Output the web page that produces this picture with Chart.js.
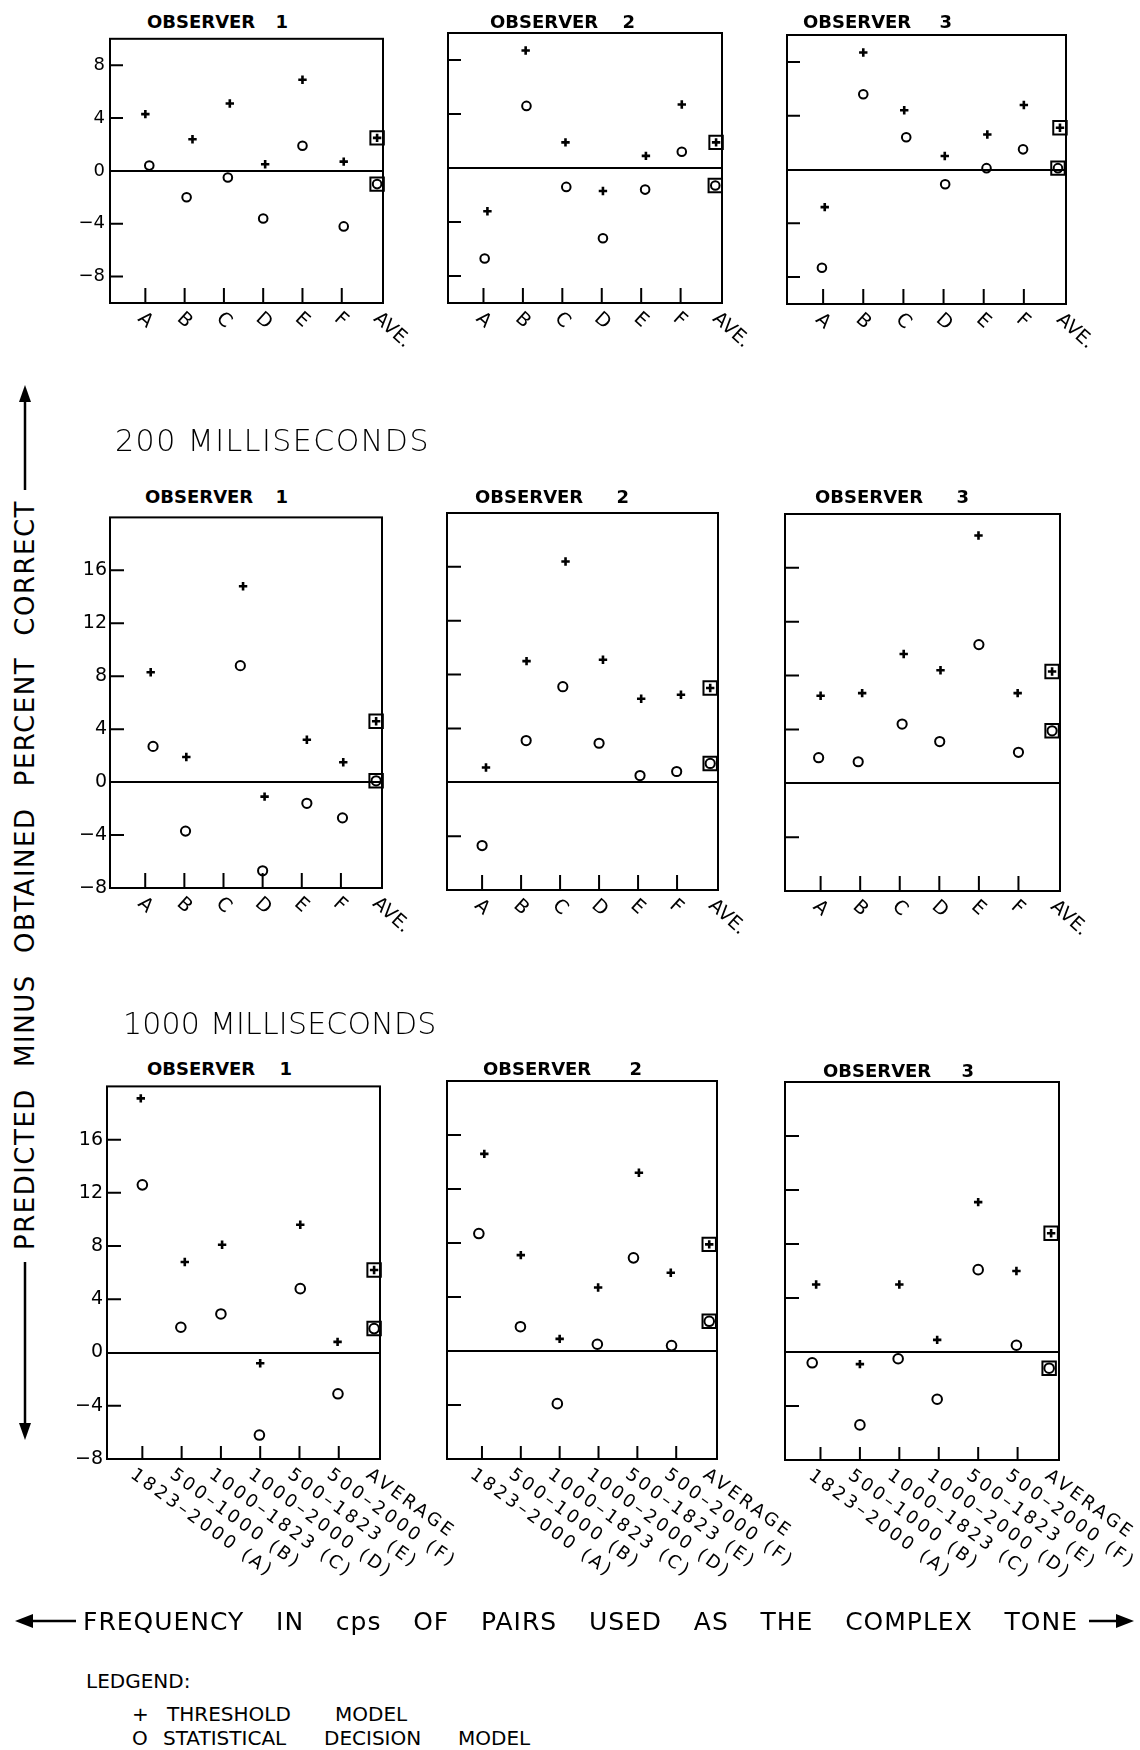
<!DOCTYPE html>
<html>
<head>
<meta charset="utf-8">
<script src="https://cdn.jsdelivr.net/npm/chart.js@4.4.1/dist/chart.umd.min.js"></script>
<style>
html,body{margin:0;padding:0;background:#fff;}
body{width:1140px;height:1750px;position:relative;overflow:hidden;font-family:"DejaVu Sans",sans-serif;color:#000;}
.abs{position:absolute;white-space:nowrap;}
canvas{position:absolute;}
.obs{font-size:18px;line-height:18px;font-weight:bold;}
.head{font-size:30px;line-height:30px;font-weight:300;letter-spacing:1.5px;}
.bottom{font-size:25px;line-height:25px;letter-spacing:1px;display:flex;justify-content:space-between;}
.leg{font-size:20px;line-height:20px;}
#vlabel{font-size:26px;line-height:30px;height:30px;letter-spacing:1.5px;display:flex;justify-content:space-between;transform:rotate(-90deg);transform-origin:center center;}
svg{position:absolute;left:0;top:0;}
</style>
</head>
<body>
<div id="root"></div>

<div class="abs head" style="left:115px;top:426px;">200 MILLISECONDS</div>
<div class="abs head" style="left:123px;top:1009px;letter-spacing:0.2px;">1000 MILLISECONDS</div>

<div id="vlabel" class="abs" style="left:-350px;top:860px;width:750px;">
<span>PREDICTED</span><span>MINUS</span><span>OBTAINED</span><span>PERCENT</span><span>CORRECT</span>
</div>

<div class="abs bottom" style="left:83px;top:1609px;width:995px;">
<span>FREQUENCY</span><span>IN</span><span>cps</span><span>OF</span><span>PAIRS</span><span>USED</span><span>AS</span><span>THE</span><span>COMPLEX</span><span>TONE</span>
</div>

<div class="abs leg" style="left:86px;top:1671px;">LEDGEND:</div>
<div class="abs leg" style="left:132px;top:1704px;">+</div>
<div class="abs leg" style="left:167px;top:1704px;">THRESHOLD</div>
<div class="abs leg" style="left:335px;top:1704px;">MODEL</div>
<div class="abs leg" style="left:132px;top:1728px;">O</div>
<div class="abs leg" style="left:163px;top:1728px;">STATISTICAL</div>
<div class="abs leg" style="left:324px;top:1728px;">DECISION</div>
<div class="abs leg" style="left:458px;top:1728px;">MODEL</div>

<svg width="1140" height="1750" viewBox="0 0 1140 1750">
  <g stroke="#000" stroke-width="2.5" fill="#000">
    <line x1="25" y1="398" x2="25" y2="490"/>
    <polygon points="25,385 19,402 31,402" stroke="none"/>
    <line x1="25" y1="1262" x2="25" y2="1428"/>
    <polygon points="25,1440 19,1423 31,1423" stroke="none"/>
    <line x1="30" y1="1621" x2="76" y2="1621"/>
    <polygon points="15,1621 33,1614 33,1628" stroke="none"/>
    <line x1="1089" y1="1621" x2="1120" y2="1621"/>
    <polygon points="1134,1621 1116,1614 1116,1628" stroke="none"/>
  </g>
</svg>

<script>
// ---- categories / ticks ----
const catShort = ['A', 'B', 'C', 'D', 'E', 'F', 'AVE.'];
const catLong = ['1823–2000 (A)', '500–1000 (B)', '1000–1823 (C)', '1000–2000 (D)', '500–1823 (E)', '500–2000 (F)', 'AVERAGE'];
const catPos = [1, 2, 3, 4, 5, 6, 7];
const yTicksRow1 = [8, 4, 0, -4, -8];
const yTicksRow23 = [16, 12, 8, 4, 0, -4, -8];

// ---- row 1 (top) : threshold (+) and statistical decision (o) ----
const r1o1Thr = [4.3, 2.4, 5.1, 0.5, 6.9, 0.7, 2.5];
const r1o1ThrX = [1.0, 2.2, 3.15, 4.05, 5.0, 6.05, 6.9];
const r1o1Sdm = [0.4, -2.0, -0.5, -3.6, 1.9, -4.2, -1.0];
const r1o1SdmX = [1.1, 2.05, 3.1, 4.0, 5.0, 6.05, 6.9];

const r1o2Thr = [-3.2, 8.7, 1.9, -1.7, 0.9, 4.7, 1.9];
const r1o2ThrX = [1.1, 2.07, 3.08, 4.03, 5.12, 6.03, 6.9];
const r1o2Sdm = [-6.7, 4.6, -1.4, -5.2, -1.6, 1.2, -1.3];
const r1o2SdmX = [1.03, 2.09, 3.1, 4.03, 5.1, 6.03, 6.88];

const r1o3Thr = [-2.8, 8.7, 4.4, 1.0, 2.6, 4.8, 3.1];
const r1o3ThrX = [1.04, 2.0, 3.02, 4.03, 5.09, 6.0, 6.9];
const r1o3Sdm = [-7.3, 5.6, 2.4, -1.1, 0.1, 1.5, 0.1];
const r1o3SdmX = [0.97, 2.0, 3.07, 4.04, 5.07, 5.98, 6.85];

// ---- row 2 : 200 milliseconds ----
const r2o1Thr = [8.3, 1.9, 14.8, -1.1, 3.2, 1.5, 4.6];
const r2o1ThrX = [1.14, 2.05, 3.5, 4.05, 5.13, 6.06, 6.9];
const r2o1Sdm = [2.7, -3.7, 8.8, -6.7, -1.6, -2.7, 0.1];
const r2o1SdmX = [1.2, 2.03, 3.43, 4.0, 5.13, 6.04, 6.9];

const r2o2Thr = [1.1, 9.0, 16.4, 9.1, 6.2, 6.5, 7.0];
const r2o2ThrX = [1.1, 2.14, 3.14, 4.1, 5.08, 6.1, 6.85];
const r2o2Sdm = [-4.7, 3.1, 7.1, 2.9, 0.5, 0.8, 1.4];
const r2o2SdmX = [1.0, 2.13, 3.07, 4.0, 5.05, 5.99, 6.85];

const r2o3Thr = [6.5, 6.7, 9.6, 8.4, 18.4, 6.7, 8.3];
const r2o3ThrX = [1.0, 2.05, 3.1, 4.03, 4.99, 5.98, 6.85];
const r2o3Sdm = [1.9, 1.6, 4.4, 3.1, 10.3, 2.3, 3.9];
const r2o3SdmX = [0.95, 1.95, 3.06, 4.01, 5.0, 6.0, 6.85];

// ---- row 3 : 1000 milliseconds ----
const r3o1Thr = [19.1, 6.8, 8.1, -0.8, 9.6, 0.8, 6.2];
const r3o1ThrX = [0.96, 2.08, 3.03, 4.0, 5.02, 5.97, 6.9];
const r3o1Sdm = [12.6, 1.9, 2.9, -6.2, 4.8, -3.1, 1.8];
const r3o1SdmX = [1.0, 1.98, 3.0, 3.98, 5.02, 5.98, 6.9];

const r3o2Thr = [14.6, 7.1, 0.9, 4.7, 13.2, 5.8, 7.9];
const r3o2ThrX = [1.06, 2.0, 3.0, 3.99, 5.04, 5.86, 6.85];
const r3o2Sdm = [8.7, 1.8, -3.9, 0.5, 6.9, 0.4, 2.2];
const r3o2SdmX = [0.92, 1.99, 2.94, 3.97, 4.9, 5.88, 6.85];

const r3o3Thr = [5.0, -0.9, 5.0, 0.9, 11.1, 6.0, 8.8];
const r3o3ThrX = [0.89, 2.0, 3.0, 3.96, 5.0, 5.97, 6.85];
const r3o3Sdm = [-0.8, -5.4, -0.5, -3.5, 6.1, 0.5, -1.2];
const r3o3SdmX = [0.79, 2.0, 2.97, 3.96, 5.0, 5.97, 6.8];

// ---- layout (positions / styles only) ----
const rowCfg = {
  1: {ticks: yTicksRow1, min: -10, max: 10, labels: catShort, rot: 42, dx: -5, dy: 13, font: '19px "DejaVu Sans"', spacing: '0px', xTickLen: 15, yTickLen: 13, ySize: 18, yPad: 5, circR: 4.3},
  2: {ticks: yTicksRow23, min: -8, max: 20, labels: catShort, rot: 42, dx: -5, dy: 13, font: '19px "DejaVu Sans"', spacing: '0px', xTickLen: 15, yTickLen: 14, ySize: 19, yPad: 3, circR: 4.6},
  3: {ticks: yTicksRow23, min: -8, max: 20, labels: catLong, rot: 36, dx: -10, dy: 14, font: '18px "DejaVu Sans"', spacing: '3px', xTickLen: 13, yTickLen: 14, ySize: 19, yPad: 4, circR: 4.8}
};

const panels = [
  {row: 1, box: [110, 33, 383, 303], thr: r1o1Thr, thrX: r1o1ThrX, sdm: r1o1Sdm, sdmX: r1o1SdmX, showY: true,  obs: '1', title: [147, 22, 14]},
  {row: 1, box: [448, 33, 722, 303], thr: r1o2Thr, thrX: r1o2ThrX, sdm: r1o2Sdm, sdmX: r1o2SdmX, showY: false, obs: '2', title: [490, 22, 18]},
  {row: 1, box: [787, 35, 1066, 304], thr: r1o3Thr, thrX: r1o3ThrX, sdm: r1o3Sdm, sdmX: r1o3SdmX, showY: false, obs: '3', title: [803, 22, 22]},
  {row: 2, box: [110, 513, 382, 888], thr: r2o1Thr, thrX: r2o1ThrX, sdm: r2o1Sdm, sdmX: r2o1SdmX, showY: true,  obs: '1', title: [145, 497, 16]},
  {row: 2, box: [447, 513, 718, 890], thr: r2o2Thr, thrX: r2o2ThrX, sdm: r2o2Sdm, sdmX: r2o2SdmX, showY: false, obs: '2', title: [475, 497, 27]},
  {row: 2, box: [785, 514, 1060, 891], thr: r2o3Thr, thrX: r2o3ThrX, sdm: r2o3Sdm, sdmX: r2o3SdmX, showY: false, obs: '3', title: [815, 497, 27]},
  {row: 3, box: [107, 1081, 380, 1459], thr: r3o1Thr, thrX: r3o1ThrX, sdm: r3o1Sdm, sdmX: r3o1SdmX, showY: true,  obs: '1', title: [147, 1069, 18]},
  {row: 3, box: [447, 1081, 717, 1459], thr: r3o2Thr, thrX: r3o2ThrX, sdm: r3o2Sdm, sdmX: r3o2SdmX, showY: false, obs: '2', title: [483, 1069, 32]},
  {row: 3, box: [785, 1082, 1059, 1460], thr: r3o3Thr, thrX: r3o3ThrX, sdm: r3o3Sdm, sdmX: r3o3SdmX, showY: false, obs: '3', title: [823, 1071, 24]}
];

const AXW = 55;                       // width reserved for the y axis labels
const PAD = {left: 5, top: 10, right: 130, bottom: 150};

const framePlugin = {
  id: 'frame',
  beforeDatasetsDraw(chart, args, o) {
    const {ctx, chartArea: a, scales: {x, y}} = chart;
    ctx.save();
    ctx.strokeStyle = '#000';
    ctx.lineWidth = 2;
    ctx.strokeRect(a.left, a.top, a.right - a.left, a.bottom - a.top);
    ctx.beginPath();
    y.ticks.forEach(t => {
      if (t.value === 0 || t.value === y.min) return;
      const py = y.getPixelForValue(t.value);
      ctx.moveTo(a.left, py);
      ctx.lineTo(a.left + o.yTickLen, py);
    });
    o.tickCats.forEach(v => {
      const px = x.getPixelForValue(v);
      ctx.moveTo(px, a.bottom);
      ctx.lineTo(px, a.bottom - o.xTickLen);
    });
    ctx.stroke();
    ctx.restore();
  },
  afterDraw(chart, args, o) {
    const {ctx, chartArea: a, scales: {x}} = chart;
    ctx.save();
    ctx.fillStyle = '#000';
    ctx.font = o.font;
    ctx.letterSpacing = o.spacing;
    ctx.textAlign = 'left';
    ctx.textBaseline = 'middle';
    o.labels.forEach((lab, i) => {
      const px = x.getPixelForValue(o.labelPos[i]);
      ctx.save();
      ctx.translate(px + o.dx, a.bottom + o.dy);
      ctx.rotate(o.rot * Math.PI / 180);
      ctx.fillText(lab, 0, 0);
      ctx.restore();
    });
    ctx.restore();
  }
};

const toPts = (xs, ys) => ys.map((v, i) => ({x: xs[i], y: v}));
const root = document.getElementById('root');

panels.forEach(p => {
  const rc = rowCfg[p.row];
  const [l, t, r, b] = p.box;
  const offL = PAD.left + AXW;
  const w = (r - l) + offL + PAD.right;
  const h = (b - t) + PAD.top + PAD.bottom;

  const tdiv = document.createElement('div');
  tdiv.className = 'abs obs';
  tdiv.style.left = p.title[0] + 'px';
  tdiv.style.top = (p.title[1] - 8.7) + 'px';
  tdiv.innerHTML = 'OBSERVER <span style="margin-left:' + p.title[2] + 'px">' + p.obs + '</span>';
  root.appendChild(tdiv);

  const cv = document.createElement('canvas');
  cv.width = w; cv.height = h;
  cv.style.left = (l - offL) + 'px';
  cv.style.top = (t - PAD.top) + 'px';
  cv.style.width = w + 'px'; cv.style.height = h + 'px';
  root.appendChild(cv);

  const n = p.thr.length;
  const cr = rc.circR;
  new Chart(cv, {
    type: 'scatter',
    data: {
      datasets: [
        {label: 'Threshold model', data: toPts(p.thrX, p.thr), pointStyle: 'cross', pointRadius: 4.2, pointHoverRadius: 4.2, pointBorderWidth: 2.6, pointBorderColor: '#000', borderColor: '#000', clip: false},
        {label: 'Statistical decision model', data: toPts(p.sdmX, p.sdm), pointStyle: 'circle', pointRadius: cr, pointHoverRadius: cr, pointBorderWidth: 2, pointBorderColor: '#000', pointBackgroundColor: 'rgba(0,0,0,0)', borderColor: '#000', clip: false},
        {label: 'Threshold average', data: [{x: p.thrX[n - 1], y: p.thr[n - 1]}], pointStyle: 'rect', pointRadius: 9.5, pointHoverRadius: 9.5, pointBorderWidth: 2, pointBorderColor: '#000', pointBackgroundColor: 'rgba(0,0,0,0)', clip: false},
        {label: 'Statistical average', data: [{x: p.sdmX[n - 1], y: p.sdm[n - 1]}], pointStyle: 'rect', pointRadius: 9.5, pointHoverRadius: 9.5, pointBorderWidth: 2, pointBorderColor: '#000', pointBackgroundColor: 'rgba(0,0,0,0)', clip: false}
      ]
    },
    options: {
      responsive: false,
      devicePixelRatio: 1,
      animation: false,
      events: [],
      layout: {padding: PAD, autoPadding: false},
      scales: {
        x: {type: 'linear', min: 0.1, max: 7.05, display: false},
        y: {
          type: 'linear', min: rc.min, max: rc.max,
          afterBuildTicks: s => { s.ticks = rc.ticks.map(v => ({value: v})); },
          afterFit: s => { s.width = AXW; },
          border: {display: false},
          grid: {
            drawTicks: false,
            lineWidth: 2,
            color: c => (c.tick && c.tick.value === 0) ? '#000' : 'rgba(0,0,0,0)'
          },
          ticks: {
            display: p.showY,
            autoSkip: false,
            padding: rc.yPad,
            color: '#000',
            font: {family: 'DejaVu Sans', size: rc.ySize},
            callback: v => (v < 0 ? '−' + Math.abs(v) : String(v))
          }
        }
      },
      plugins: {
        legend: {display: false},
        tooltip: {enabled: false},
        frame: {
          yTickLen: rc.yTickLen, xTickLen: rc.xTickLen,
          tickCats: catPos.slice(0, 6),
          labels: rc.labels, labelPos: catPos,
          rot: rc.rot, dx: rc.dx, dy: rc.dy, font: rc.font, spacing: rc.spacing
        }
      }
    },
    plugins: [framePlugin]
  });
});
</script>
</body>
</html>
